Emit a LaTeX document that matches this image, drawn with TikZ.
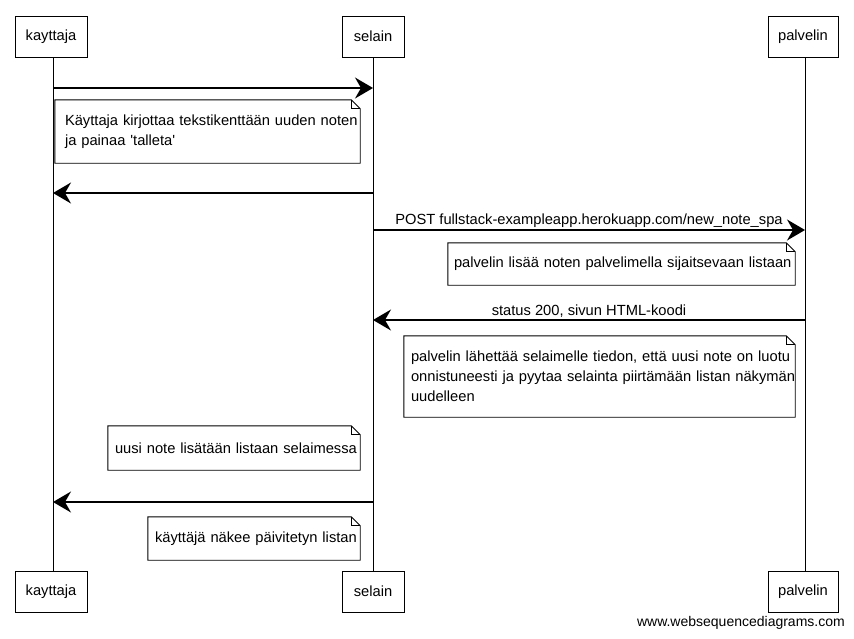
\documentclass[tikz,border=0pt]{standalone}
\usepackage{fontspec}
\setmainfont{Liberation Sans}
\usetikzlibrary{arrows.meta}
\newcommand\foldnote[1]{%
  \draw[notefr] (#1.south west) -- (#1.north west) -- ([xshift=-9pt]#1.north east)
    -- ([yshift=-9pt]#1.north east) -- (#1.south east) -- cycle;
  \draw[notefr] ([xshift=-9pt]#1.north east) -- ([xshift=-9pt,yshift=-9pt]#1.north east)
    -- ([yshift=-9pt]#1.north east);}
\begin{document}
\begin{tikzpicture}[x=1pt,y=-1pt,
  font=\fontsize{14.7}{20}\selectfont,
  actor/.style={draw,line width=0.9pt,minimum height=41pt,inner sep=0pt,fill=white},
  life/.style={line width=0.8pt},
  msg/.style={line width=1.4pt,-{Stealth[length=18pt,width=21pt,inset=6pt]}},
  notefr/.style={line width=0.9pt},
  note/.style={inner sep=0pt,align=left},
  lbl/.style={above,inner sep=2pt}]
\useasboundingbox (0,0) rectangle (854,638);
\fill[white] (0,0) rectangle (854,638);
% actors
\node[actor,minimum width=72pt] (kt) at (51,36.5) {kayttaja};
\node[actor,minimum width=62pt] (st) at (373,36.5) {selain};
\node[actor,minimum width=70pt] (pt) at (803,36.5) {palvelin};
\node[actor,minimum width=72pt] (kb) at (51,591.5) {kayttaja};
\node[actor,minimum width=62pt] (sb) at (373,591.5) {selain};
\node[actor,minimum width=70pt] (pb) at (803,591.5) {palvelin};
\coordinate (kx) at (53,0);
\coordinate (sx) at (373,0);
\coordinate (px) at (805,0);
\draw[life] (kx |- kt.south) -- (kx |- kb.north);
\draw[life] (sx |- st.south) -- (sx |- sb.north);
\draw[life] (px |- pt.south) -- (px |- pb.north);
% messages
\coordinate (k1) at (53,88);   \coordinate (s1) at (373,88);
\coordinate (s2) at (373,193); \coordinate (k2) at (53,193);
\coordinate (s3) at (373,230); \coordinate (p3) at (805,230);
\coordinate (p4) at (805,320); \coordinate (s4) at (373,320);
\coordinate (s5) at (373,502); \coordinate (k5) at (53,502);
\draw[msg] (k1) -- (s1);
\node[note,text width=285pt,minimum width=305pt,minimum height=63pt] (n1) at (207.5,131.5)
  {\mbox{Käyttaja kirjottaa tekstikenttään uuden noten}\\\mbox{ja painaa \textquotesingle talleta\textquotesingle}};
\foldnote{n1}
\draw[msg] (s2) -- (k2);
\draw[msg] (s3) -- node[lbl] (l3) {POST fullstack-exampleapp.herokuapp.com/new\_note\_spa} (p3);
\node[note,text width=335pt,minimum width=347pt,minimum height=42pt] (n2) at (621.5,264)
  {\mbox{palvelin lisää noten palvelimella sijaitsevaan listaan}};
\foldnote{n2}
\draw[msg] (p4) -- node[lbl] (l4) {status 200, sivun HTML-koodi} (s4);
\node[note,text width=377pt,minimum width=391pt,minimum height=81pt] (n3) at (599.5,376.5)
  {\mbox{palvelin lähettää selaimelle tiedon, että uusi note on luotu}\\\mbox{onnistuneesti ja pyytaa selainta piirtämään listan näkymän}\\\mbox{uudelleen}};
\foldnote{n3}
\node[note,text width=238pt,minimum width=252pt,minimum height=44pt] (n4) at (234,448)
  {\mbox{uusi note lisätään listaan selaimessa}};
\foldnote{n4}
\draw[msg] (s5) -- (k5);
\node[note,text width=198pt,minimum width=212pt,minimum height=43pt] (n5) at (254,538.5)
  {\mbox{käyttäjä näkee päivitetyn listan}};
\foldnote{n5}
\node[anchor=east,inner sep=0pt,font=\fontsize{14}{16}\selectfont] (foot) at (845,623) {www.websequencediagrams.com};
\end{tikzpicture}
\end{document}
